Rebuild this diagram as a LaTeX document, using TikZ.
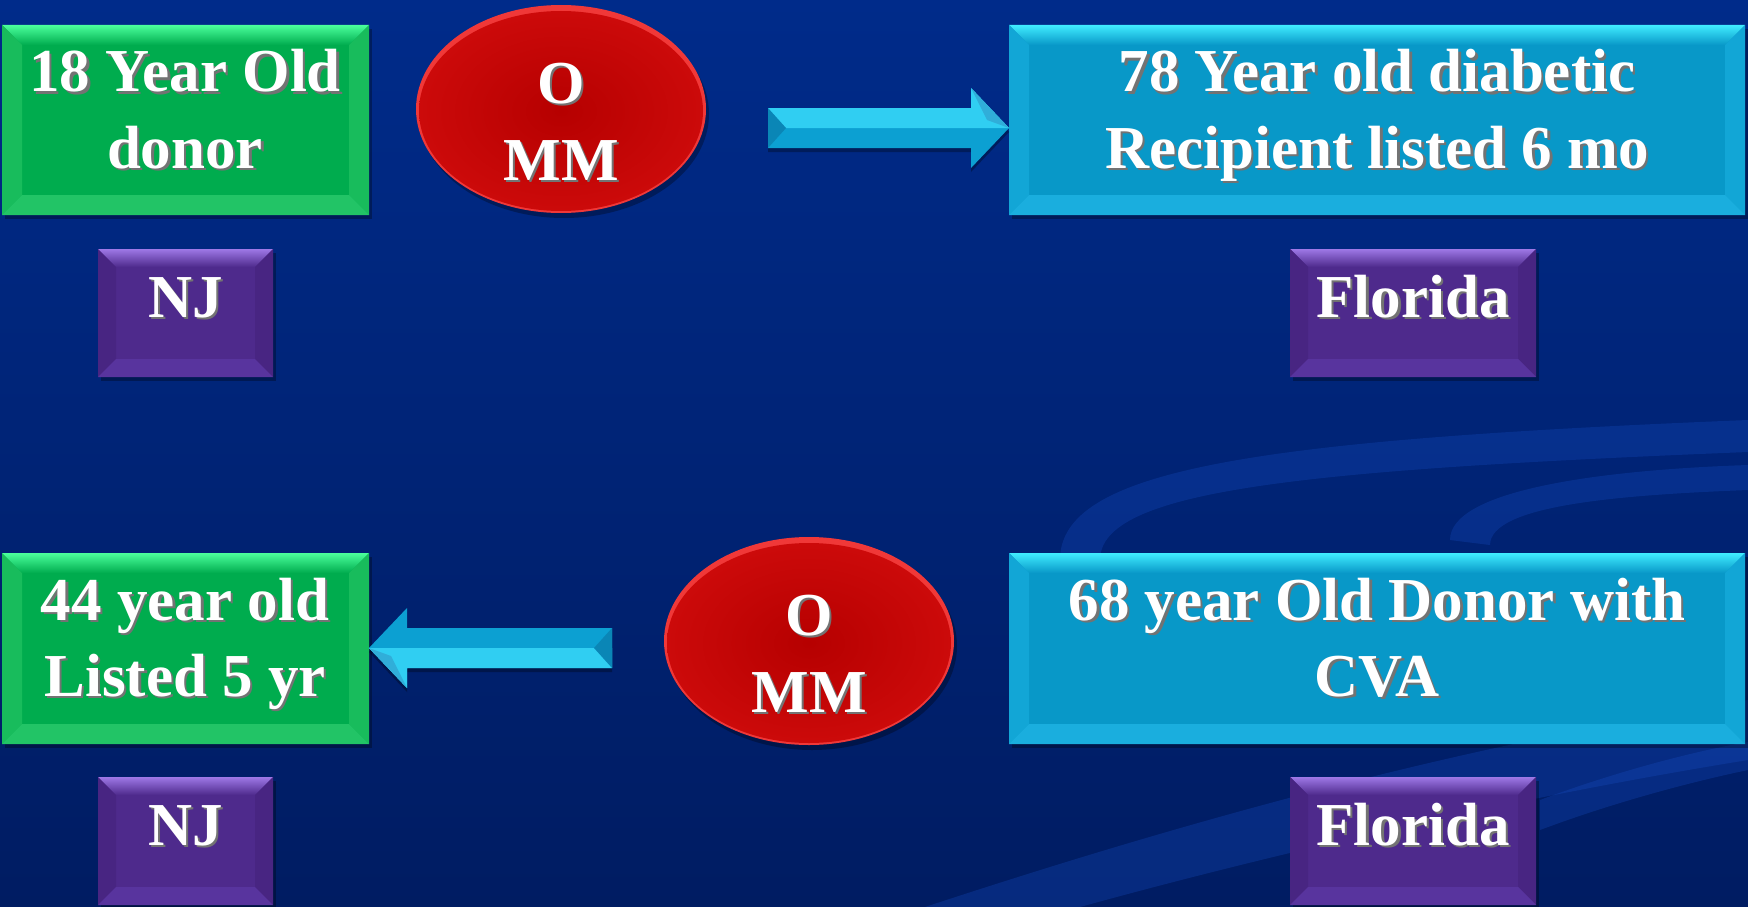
\documentclass[tikz,border=0pt]{standalone}
\usepackage{fontspec}
\setmainfont{Liberation Serif}
\usetikzlibrary{calc,shapes.geometric}
\definecolor{bgtop}{HTML}{002B8A}
\definecolor{bgmid}{HTML}{0036A6}
\definecolor{bgbot}{HTML}{001C62}
\definecolor{swoosh}{HTML}{1850C8}
\definecolor{gface}{HTML}{00AC4E}
\definecolor{gtop}{HTML}{4BFF9C}
\definecolor{gside}{HTML}{18BC5C}
\definecolor{gbot}{HTML}{22C466}
\definecolor{cface}{HTML}{0898C8}
\definecolor{ctop}{HTML}{40ECFF}
\definecolor{cside}{HTML}{12A6D6}
\definecolor{cbot}{HTML}{1AAEDE}
\definecolor{pface}{HTML}{4E2A8C}
\definecolor{ptop}{HTML}{9E78E6}
\definecolor{pside}{HTML}{482582}
\definecolor{pbot}{HTML}{58349E}
\definecolor{rin}{HTML}{B60000}
\definecolor{rout}{HTML}{CC0A0A}
\definecolor{rrim}{HTML}{F03838}
\definecolor{amid}{HTML}{0CA0D2}
\definecolor{alight}{HTML}{30CEF2}
\definecolor{adark}{HTML}{0A86B6}
\newlength\bv
\setlength\bv{20pt}
\newcommand\shtx[1]{\makebox[0pt][l]{\kern2.5pt\raisebox{-2.5pt}{\textcolor{black!55}{#1}}}#1}
% name, x1, y1, x2, y2, face, top, side, bottom
\newcommand\bevelbox[9]{%
  \fill[black,opacity=.3] (#2+3,#3+4) rectangle (#4+3,#5+4);
  \node[inner sep=0,outer sep=0,fill=#6,minimum width={#4-#2},minimum height={#5-#3}] (#1) at ({(#2+#4)/2},{(#3+#5)/2}) {};
  \shade[top color=#7,bottom color=#6] (#1.north west) -- (#1.north east) -- ([xshift=-\bv,yshift=-\bv]#1.north east) -- ([xshift=\bv,yshift=-\bv]#1.north west) -- cycle;
  \fill[#8] (#1.north west) -- ([xshift=\bv,yshift=-\bv]#1.north west) -- ([xshift=\bv,yshift=\bv]#1.south west) -- (#1.south west) -- cycle;
  \fill[#8] (#1.north east) -- ([xshift=-\bv,yshift=-\bv]#1.north east) -- ([xshift=-\bv,yshift=\bv]#1.south east) -- (#1.south east) -- cycle;
  \fill[#9] (#1.south west) -- (#1.south east) -- ([xshift=-\bv,yshift=\bv]#1.south east) -- ([xshift=\bv,yshift=\bv]#1.south west) -- cycle;
}
% start, tip, direction (1 right, -1 left)
\newcommand\barrow[3]{%
  \fill[black,opacity=.3] ($(#1)+(0,-16)$) -- ($(#2)+(-38*#3,-16)$) -- ($(#2)+(-38*#3,-36)$) -- ($(#2)+(0,4)$) -- ($(#2)+(-38*#3,44)$) -- ($(#2)+(-38*#3,24)$) -- ($(#1)+(0,24)$) -- cycle;
  \fill[amid] ($(#1)+(0,-20)$) -- ($(#2)+(-38*#3,-20)$) -- ($(#2)+(-38*#3,-40)$) -- (#2) -- ($(#2)+(-38*#3,40)$) -- ($(#2)+(-38*#3,20)$) -- ($(#1)+(0,20)$) -- cycle;
  \fill[alight] ($(#1)+(0,-20*#3)$) -- ($(#2)+(-38*#3,-20*#3)$) -- ($(#2)+(-38*#3,-40*#3)$) -- (#2) -- ($(#1)+(0,0)$) -- cycle;
  \fill[amid!85!white] ($(#2)+(-38*#3,-40*#3)$) -- ($(#2)+(-22*#3,-8*#3)$) -- (#2) -- cycle;
  \fill[adark] ($(#1)+(0,-20)$) -- ($(#1)+(18*#3,0)$) -- ($(#1)+(0,20)$) -- cycle;
}
\begin{document}
\begin{tikzpicture}[x=1pt,y=-1pt,
  txt/.style={text=white,font=\fontsize{61}{76}\selectfont\bfseries,anchor=base,inner sep=0},
  swirl/.style={swoosh,opacity=.28},
  redball/.style={ellipse,inner sep=0,minimum width=290,minimum height=208,inner color=rin,outer color=rout}]
\useasboundingbox (0,0) rectangle (1748,907);
\shade[top color=bgtop,middle color=bgmid,bottom color=bgbot] (0,0) rectangle (1748,907);
% background swooshes
\fill[swirl] (1060,560) .. controls (1060,470) and (1250,440) .. (1748,420) -- (1748,452) .. controls (1300,470) and (1100,490) .. (1100,560) -- cycle;
\fill[swirl] (1450,540) .. controls (1450,490) and (1600,470) .. (1748,465) -- (1748,490) .. controls (1620,495) and (1490,505) .. (1490,545) -- cycle;
\fill[swirl] (925,907) .. controls (1250,800) and (1500,740) .. (1748,700) -- (1748,760) .. controls (1500,800) and (1250,860) .. (1080,907) -- cycle;
\fill[swirl] (1540,800) .. controls (1620,770) and (1700,750) .. (1748,742) -- (1748,770) .. controls (1700,780) and (1620,800) .. (1540,830) -- cycle;
% boxes
\bevelbox{g1}{2}{25}{369}{215}{gface}{gtop}{gside}{gbot}
\bevelbox{c1}{1009}{25}{1745}{215}{cface}{ctop}{cside}{cbot}
\bevelbox{g2}{2}{553}{369}{744}{gface}{gtop}{gside}{gbot}
\bevelbox{c2}{1009}{553}{1745}{744}{cface}{ctop}{cside}{cbot}
\setlength\bv{18pt}
\bevelbox{n1}{98}{249}{273}{377}{pface}{ptop}{pside}{pbot}
\bevelbox{f1}{1290}{249}{1536}{377}{pface}{ptop}{pside}{pbot}
\bevelbox{n2}{98}{777}{273}{905}{pface}{ptop}{pside}{pbot}
\bevelbox{f2}{1290}{777}{1536}{905}{pface}{ptop}{pside}{pbot}
% ellipses
\fill[black,opacity=.3] (564,114) ellipse [x radius=145,y radius=104];
\fill[rrim] (561,109) ellipse [x radius=145,y radius=104];
\node[redball,minimum width=284,minimum height=200] (r1) at (561,111) {};
\fill[black,opacity=.3] (812,646) ellipse [x radius=145,y radius=104];
\fill[rrim] (809,641) ellipse [x radius=145,y radius=104];
\node[redball,minimum width=284,minimum height=200] (r2) at (809,643) {};
% arrows
\coordinate (a1s) at (768,128);
\coordinate (a1e) at (c1.west |- a1s);
\barrow{a1s}{a1e}{1}
\coordinate (a2s) at (612,648);
\coordinate (a2e) at (g2.east |- a2s);
\barrow{a2s}{a2e}{-1}
% texts
\node[txt] (g1a) at (185,92) {\shtx{18 Year Old}};
\node[txt] (g1b) at (185,168) {\shtx{donor}};
\node[txt] (r1a) at (561,103) {\shtx{O}};
\node[txt] (r1b) at (561,180) {\shtx{MM}};
\node[txt] (c1a) at (1377,92) {\shtx{78 Year old diabetic}};
\node[txt] (c1b) at (1377,168) {\shtx{Recipient listed 6 mo}};
\node[txt] (n1t) at (185.5,317) {\shtx{NJ}};
\node[txt] (f1t) at (1413,317) {\shtx{Florida}};
\node[txt] (g2a) at (185,620) {\shtx{44 year old}};
\node[txt] (g2b) at (185,696) {\shtx{Listed 5 yr}};
\node[txt] (r2a) at (809,635) {\shtx{O}};
\node[txt] (r2b) at (809,712) {\shtx{MM}};
\node[txt] (c2a) at (1377,620) {\shtx{68 year Old Donor with}};
\node[txt] (c2b) at (1377,696) {\shtx{CVA}};
\node[txt] (n2t) at (185.5,845) {\shtx{NJ}};
\node[txt] (f2t) at (1413,845) {\shtx{Florida}};
\end{tikzpicture}
\end{document}
